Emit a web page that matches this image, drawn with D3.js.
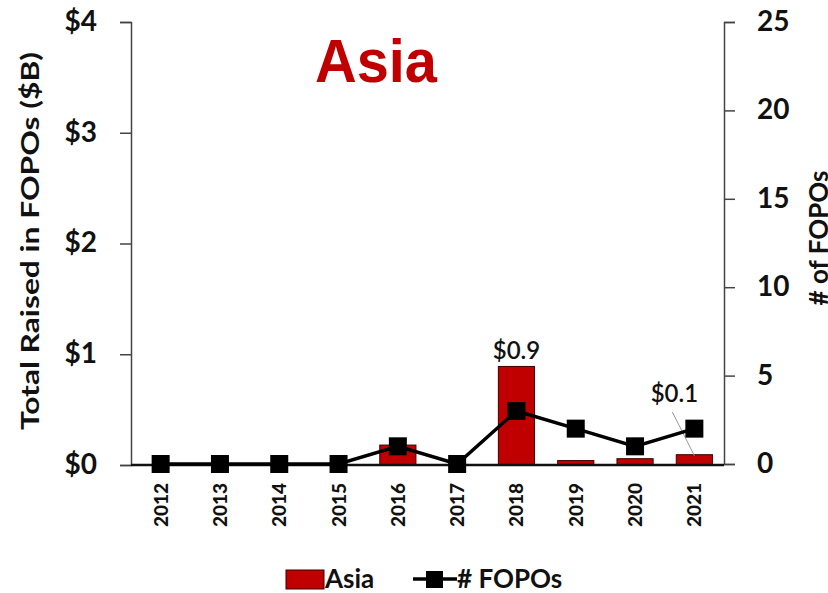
<!DOCTYPE html>
<html><head><meta charset="utf-8">
<script src="https://cdn.jsdelivr.net/npm/d3@7"></script>
<style>body{margin:0;background:#fff}svg{display:block}text{font-family:Lato,"Open Sans",sans-serif}</style>
</head><body>
<svg id="c" width="828" height="593"></svg>
<script>
const years = ["2012","2013","2014","2015","2016","2017","2018","2019","2020","2021"];
const raised = [0,0,0,0,0.18,0,0.89,0.04,0.057,0.093];
const fopos = [0,0,0,0,1,0,3,2,1,2];
const leftTicks = [0,1,2,3,4];
const rightTicks = [0,5,10,15,20,25];
const dataLabels = [{year:"2018", text:"$0.9"},{year:"2021", text:"$0.1"}];

const svg = d3.select("#c");
const L = 131, R = 724, T = 22, B = 465;
const x = d3.scaleBand().domain(years).range([L,R]).paddingInner(0.39).paddingOuter(0.195);
const yL = d3.scaleLinear().domain([0,4]).range([B,T]);
const yR = d3.scaleLinear().domain([0,25]).range([B-1,T]);

// left axis
const gl = svg.append("g").attr("transform",`translate(${L},0)`)
  .call(d3.axisLeft(yL).tickValues(leftTicks).tickFormat(d=>"$"+d).tickSize(11).tickPadding(23));
gl.select(".domain").attr("stroke","#444").attr("stroke-width",1.5);
gl.selectAll(".tick line").attr("stroke","#444").attr("stroke-width",1.5);
gl.selectAll(".tick text").attr("font-size",28).attr("font-weight","bold").attr("fill","#111").attr("dy","0.3em");

// right axis
const gr = svg.append("g").attr("transform",`translate(${R},0)`)
  .call(d3.axisRight(yR).tickValues(rightTicks).tickSize(11).tickPadding(22));
gr.select(".domain").attr("stroke","#444").attr("stroke-width",1.5);
gr.selectAll(".tick line").attr("stroke","#444").attr("stroke-width",1.5);
gr.selectAll(".tick text").attr("font-size",28).attr("font-weight","bold").attr("fill","#111").attr("dy","0.3em");

// bars
svg.append("g").selectAll("rect").data(years).join("rect")
  .attr("x",d=>x(d)).attr("width",x.bandwidth())
  .attr("y",(d,i)=>yL(raised[i])).attr("height",(d,i)=>B-yL(raised[i]))
  .attr("fill","#C00000").attr("stroke","#3a0000").attr("stroke-width",1);

// x axis baseline
svg.append("line").attr("x1",L).attr("x2",R).attr("y1",B).attr("y2",B).attr("stroke","#111").attr("stroke-width",2.5);

// x labels
svg.append("g").selectAll("text").data(years).join("text")
  .attr("transform",d=>`translate(${x(d)+x.bandwidth()/2+7},483) rotate(-90)`)
  .attr("text-anchor","end").attr("font-size",19).attr("font-weight","900").attr("fill","#111")
  .attr("textLength",44).attr("lengthAdjust","spacingAndGlyphs")
  .text(d=>d);

// leader line for $0.1
const i21 = years.indexOf("2021");
svg.append("line").attr("x1",x("2021")+x.bandwidth()/2-22).attr("y1",412)
  .attr("x2",x("2021")+x.bandwidth()/2).attr("y2",yL(raised[i21])+1)
  .attr("stroke","#999").attr("stroke-width",1);

// line
const line = d3.line().x((d,i)=>x(years[i])+x.bandwidth()/2).y(d=>yR(d));
svg.append("path").datum(fopos).attr("d",line).attr("fill","none").attr("stroke","#000").attr("stroke-width",3.5);
svg.append("g").selectAll("rect").data(fopos).join("rect")
  .attr("x",(d,i)=>x(years[i])+x.bandwidth()/2-9).attr("y",d=>yR(d)-9)
  .attr("width",18).attr("height",18).attr("fill","#000");

// data labels
svg.append("text").attr("x",x("2018")+x.bandwidth()/2).attr("y",359).attr("text-anchor","middle")
  .attr("font-size",24).attr("font-weight","600").attr("fill","#111").text(dataLabels[0].text);
svg.append("text").attr("x",x("2021")+x.bandwidth()/2-20).attr("y",402).attr("text-anchor","middle")
  .attr("font-size",24).attr("font-weight","600").attr("fill","#111").text(dataLabels[1].text);

// title
svg.append("text").attr("x",376).attr("y",82).attr("text-anchor","middle")
  .style("font-family","'Liberation Sans', Arial, sans-serif")
  .attr("font-size",62).attr("font-weight","bold").attr("fill","#C00000")
  .attr("textLength",122).attr("lengthAdjust","spacingAndGlyphs").text("Asia");

// axis titles
svg.append("text").attr("transform","translate(39,241) rotate(-90)").attr("text-anchor","middle")
  .attr("font-size",25).attr("font-weight","bold").attr("fill","#111")
  .attr("textLength",378).attr("lengthAdjust","spacingAndGlyphs").text("Total Raised in FOPOs ($B)");
svg.append("text").attr("transform","translate(828,238) rotate(-90)").attr("text-anchor","middle")
  .attr("font-size",26).attr("font-weight","bold").attr("fill","#111").text("# of FOPOs");

// legend
const lg = svg.append("g");
lg.append("rect").attr("x",286).attr("y",570).attr("width",38).attr("height",19).attr("fill","#C00000").attr("stroke","#3a0000").attr("stroke-width",1);
lg.append("text").attr("x",325).attr("y",588).attr("font-size",26).attr("font-weight","bold").attr("fill","#111").text("Asia");
lg.append("line").attr("x1",413).attr("x2",457).attr("y1",579).attr("y2",579).attr("stroke","#000").attr("stroke-width",3.5);
lg.append("rect").attr("x",426).attr("y",571).attr("width",17).attr("height",17).attr("fill","#000");
lg.append("text").attr("x",457).attr("y",588).attr("font-size",26).attr("font-weight","bold").attr("fill","#111").text("# FOPOs");
</script>
</body></html>
